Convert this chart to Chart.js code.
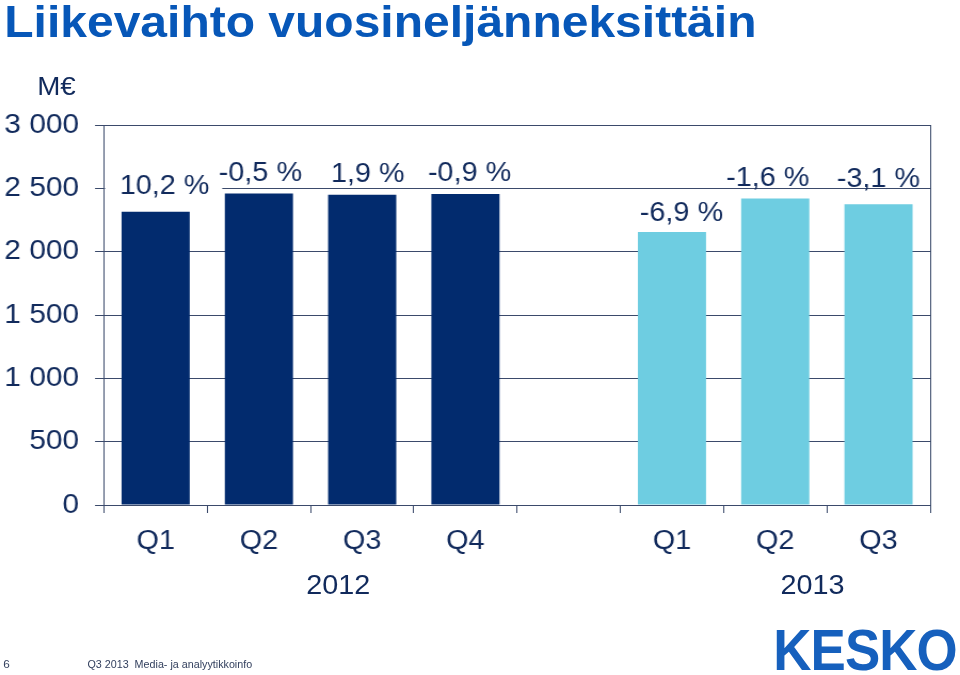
<!DOCTYPE html>
<html>
<head>
<meta charset="utf-8">
<script src="https://cdn.jsdelivr.net/npm/chart.js@4.4.1/dist/chart.umd.min.js"></script>
<style>
html,body{margin:0;padding:0;background:#fff;overflow:hidden;width:960px;height:675px;}
#slide{position:absolute;left:0;top:0;width:900px;height:675px;transform:scaleX(1.0666667);transform-origin:0 0;font-family:"Liberation Sans",Arial,sans-serif;}
#chart{position:absolute;left:0;top:0;width:900px;height:675px;}
.t{position:absolute;white-space:nowrap;}
#title{left:4px;top:-1px;font-size:45px;line-height:45px;font-weight:bold;color:#0757b8;}
#unit{right:829px;top:73px;font-size:26px;line-height:26px;color:#112a5c;}
.year{top:572px;width:120px;text-align:center;font-size:27px;line-height:27px;color:#112a5c;}
#pg{left:3px;top:659px;font-size:11px;line-height:11px;color:#33405e;}
#foot{left:82px;top:659px;font-size:11px;line-height:11px;color:#33405e;transform:scaleX(0.915);transform-origin:0 0;}
#logo{left:725px;top:622px;font-size:57px;line-height:57px;font-weight:bold;color:#1660bd;transform:scaleX(0.87);transform-origin:0 0;letter-spacing:-1px;}
</style>
</head>
<body>
<div id="slide">
  <canvas id="chart" width="900" height="675"></canvas>
  <div class="t" id="title">Liikevaihto vuosineljänneksittäin</div>
  <div class="t" id="unit">M€</div>
  <div class="t year" id="y2012"></div>
  <div class="t year" id="y2013"></div>
  <div class="t" id="pg">6</div>
  <div class="t" id="foot">Q3 2013&nbsp; Media- ja analyytikkoinfo</div>
  <div class="t" id="logo">KESKO</div>
</div>
<script>
// ---- data ----
const categories = ['Q1', 'Q2', 'Q3', 'Q4', '', 'Q1', 'Q2', 'Q3'];
const revenue = [2315, 2460, 2450, 2455, null, 2155, 2420, 2375];
const changeLabels = ['10,2 %', '-0,5 %', '1,9 %', '-0,9 %', '', '-6,9 %', '-1,6 %', '-3,1 %'];
const yearLabels = ['2012', '2013'];
const yTickLabels = ['0', '500', '1 000', '1 500', '2 000', '2 500', '3 000'];

// ---- style ----
const DARK = '#022b6e';
const LIGHT = '#6ecde1';
const TEXT = '#112a5c';
const GRID = '#3b4a6b';
const FONT = '"Liberation Sans", Arial, sans-serif';
const barColors = [DARK, DARK, DARK, DARK, DARK, LIGHT, LIGHT, LIGHT];
// label nudges relative to bar top-centre: [dx, rise above bar top]
const labelNudge = [[8.4, 25], [1.4, 19.5], [5.2, 20.5], [3.8, 20], [0, 0], [8.9, 18], [-7, 19.5], [0, 25]];
const labelBackdrop = [true, false, false, false, false, false, false, false];
// year label placement: [category index pair whose midpoint anchors it, dx]
const yearAnchor = [[1, 2, 26], [5, 7, 35]];

document.getElementById('y2012').textContent = yearLabels[0];
document.getElementById('y2013').textContent = yearLabels[1];

const pctLabels = {
  id: 'pctLabels',
  afterDatasetsDraw(chart) {
    const ctx = chart.ctx;
    const meta = chart.getDatasetMeta(0);
    const xs = chart.scales.x;
    const catW = (xs.right - xs.left) / categories.length;
    ctx.save();
    ctx.font = '27px ' + FONT;
    ctx.textAlign = 'center';
    ctx.textBaseline = 'middle';
    meta.data.forEach((bar, i) => {
      const lbl = changeLabels[i];
      if (!lbl || revenue[i] == null) return;
      const n = labelNudge[i];
      const cx = bar.x + n[0];
      const cy = bar.y - n[1];
      if (labelBackdrop[i]) {
        const w = ctx.measureText(lbl).width;
        ctx.fillStyle = '#ffffff';
        ctx.fillRect(bar.x - catW / 2 + 1, cy - 14, (cx + w / 2 + 12) - (bar.x - catW / 2 + 1), 28);
      }
      ctx.fillStyle = TEXT;
      ctx.fillText(lbl, cx, cy);
    });
    ctx.restore();
  },
  afterDraw(chart) {
    const a = chart.chartArea;
    const ctx = chart.ctx;
    ctx.save();
    ctx.strokeStyle = GRID;
    ctx.lineWidth = 1;
    ctx.beginPath();
    ctx.moveTo(Math.round(a.right) + 0.5, a.top);
    ctx.lineTo(Math.round(a.right) + 0.5, a.bottom);
    ctx.stroke();
    ctx.restore();
    // position year labels from the x scale
    const xs = chart.scales.x;
    ['y2012', 'y2013'].forEach((id, k) => {
      const an = yearAnchor[k];
      const mid = (xs.getPixelForValue(an[0]) + xs.getPixelForValue(an[1])) / 2 + an[2];
      document.getElementById(id).style.left = (mid - 60) + 'px';
    });
  }
};

new Chart(document.getElementById('chart'), {
  type: 'bar',
  data: {
    labels: categories,
    datasets: [{
      data: revenue,
      backgroundColor: barColors,
      borderWidth: 0,
      barPercentage: 0.66,
      categoryPercentage: 1.0
    }]
  },
  options: {
    responsive: false,
    animation: false,
    devicePixelRatio: 1,
    layout: { padding: { top: 125, right: 28, bottom: 0, left: 0 } },
    plugins: { legend: { display: false }, tooltip: { enabled: false }, title: { display: false } },
    scales: {
      x: {
        grid: { display: true, drawOnChartArea: false, drawTicks: true, tickLength: 8, color: GRID, lineWidth: 1, offset: true },
        border: { display: true, color: GRID, width: 1 },
        ticks: { color: TEXT, font: { size: 27, family: FONT }, padding: 12, maxRotation: 0, autoSkip: false },
        afterFit(s) { s.height = 170; }
      },
      y: {
        min: 0, max: 3000,
        grid: { display: true, drawTicks: true, tickLength: 8.4, color: GRID, lineWidth: 1 },
        border: { display: true, color: GRID, width: 1 },
        ticks: {
          stepSize: 500, color: TEXT, font: { size: 28, family: FONT }, padding: 15,
          callback: (v, i) => yTickLabels[i]
        },
        afterFit(s) { s.width = 97.5; }
      }
    }
  },
  plugins: [pctLabels]
});
</script>
</body>
</html>
